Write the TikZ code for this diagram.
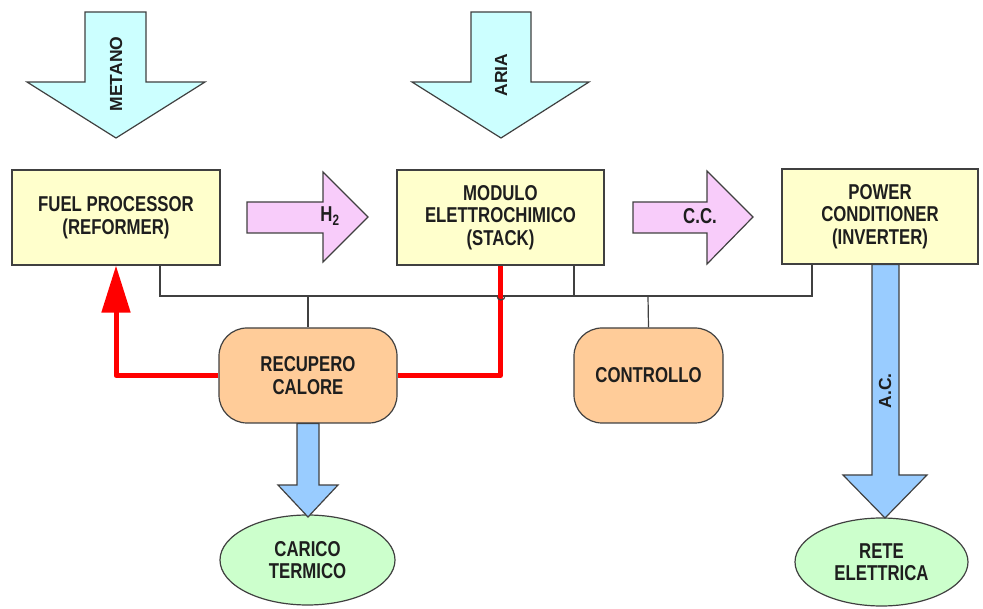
\documentclass[tikz,border=0pt]{standalone}
\usepackage{fontspec}
\setmainfont[FakeStretch=0.78]{Liberation Sans}
\newfontfamily\uprightsans{Liberation Sans}
\usetikzlibrary{arrows.meta,shapes.geometric}

\definecolor{edgegray}{HTML}{404040}
\definecolor{boxyellow}{HTML}{FFFFCC}
\definecolor{feedcyan}{HTML}{CCFFFF}
\definecolor{flowpink}{HTML}{F8CCFA}
\definecolor{unitorange}{HTML}{FFCC99}
\definecolor{loadgreen}{HTML}{CCFFCC}
\definecolor{outblue}{HTML}{99CCFF}
\definecolor{heatred}{HTML}{FF0000}
\definecolor{inkdark}{HTML}{1E1E1E}

\tikzset{
  lbl/.style={font=\bfseries\fontsize{21.5}{22.5}\selectfont, text=inkdark, align=center},
  rlbl/.style={font=\uprightsans\bfseries\fontsize{17.5}{20}\selectfont, text=inkdark,
    rotate=90},
  unitbox/.style={lbl, draw=edgegray, line width=1.2pt, fill=boxyellow,
    rectangle, inner sep=0pt},
  roundunit/.style={lbl, draw=edgegray, line width=1.2pt, fill=unitorange,
    rectangle, rounded corners=28pt, inner sep=0pt},
  loadnode/.style={lbl, draw=edgegray, line width=1.2pt, fill=loadgreen,
    ellipse, inner sep=0pt},
  feedarrow/.style={draw=edgegray, line width=1.2pt, fill=feedcyan, line join=miter},
  flowarrow/.style={draw=edgegray, line width=1.2pt, fill=flowpink, line join=miter},
  outarrow/.style={draw=edgegray, line width=1.2pt, fill=outblue, line join=miter},
  signal/.style={draw=edgegray, line width=1.2pt},
  heat/.style={draw=heatred, line width=5pt, line join=round},
}

\begin{document}
\begin{tikzpicture}[x=1pt, y=-1pt]
\useasboundingbox (0,0) rectangle (983,609);

% main units
\node[unitbox, minimum width=208pt, minimum height=95pt] (fp) at (116,217.5)
  {FUEL PROCESSOR\\(REFORMER)};
\node[unitbox, minimum width=207pt, minimum height=95pt] (stack) at (500.5,217.5)
  {MODULO\\ELETTROCHIMICO\\(STACK)};
\node[unitbox, minimum width=196pt, minimum height=95pt] (pc) at (880,216.5)
  {POWER\\CONDITIONER\\(INVERTER)};
\node[roundunit, minimum width=178pt, minimum height=95pt] (rec) at (308,375.5)
  {RECUPERO\\CALORE};
\node[roundunit, minimum width=149pt, minimum height=95pt] (ctrl) at (648.5,375.5)
  {CONTROLLO};
\node[loadnode, minimum width=175pt, minimum height=90pt] (carico) at (307.5,560)
  {CARICO\\TERMICO};
\node[loadnode, minimum width=173pt, minimum height=88pt] (rete) at (881.5,562)
  {RETE\\ELETTRICA};

% control bus
\coordinate (busL) at (160,296);
\coordinate (busR) at (812,296);
\coordinate (jstack) at (574,296);
\coordinate (jrec) at (308,296);
\coordinate (jctrl) at (648,296);
\draw[signal] (busL |- fp.south) -- (busL) -- (busR) -- (busR |- pc.south);
\draw[signal] (jstack |- stack.south) -- (jstack);
\draw[signal] (jrec) -- (rec.north);
\draw[signal] (jctrl) -- (ctrl.north);

% heat recovery lines
\draw[heat, -{Triangle[width=28pt, length=47pt]}] (rec.west) -| (fp.south);
\draw[heat] (rec.east) -| (stack.south);
\draw[signal] (497,296) arc (180:0:4);

% feed arrows
\draw[feedarrow] (85,12) -- (146,12) -- (146,82) -- (205,82) -- (116,138)
  -- (27,82) -- (85,82) -- cycle;
\node[rlbl] (metano) at (116,74) {METANO};
\draw[feedarrow] (471,12) -- (531,12) -- (531,82) -- (589,82) -- (501,138)
  -- (412,82) -- (471,82) -- cycle;
\node[rlbl] (aria) at (501,75) {ARIA};

% internal flows
\draw[flowarrow] (247,202) -- (323,202) -- (323,172) -- (368,217) -- (323,262)
  -- (323,233) -- (247,233) -- cycle;
\node[lbl] (htwo) at (330,216) {H\textsubscript{2}};
\draw[flowarrow] (633,202) -- (707,202) -- (707,171) -- (753,217) -- (707,264)
  -- (707,233) -- (633,233) -- cycle;
\node[lbl] (cc) at (700,216) {C.C.};

% outputs
\draw[outarrow] (297,423.5) -- (319,423.5) -- (319,485) -- (338,485) -- (308,517)
  -- (278,485) -- (297,485) -- cycle;
\draw[outarrow] (872,264.5) -- (899,264.5) -- (899,475) -- (927,475) -- (885,518)
  -- (843,475) -- (872,475) -- cycle;
\node[rlbl] (ac) at (885,391) {A.C.};

\end{tikzpicture}
\end{document}
